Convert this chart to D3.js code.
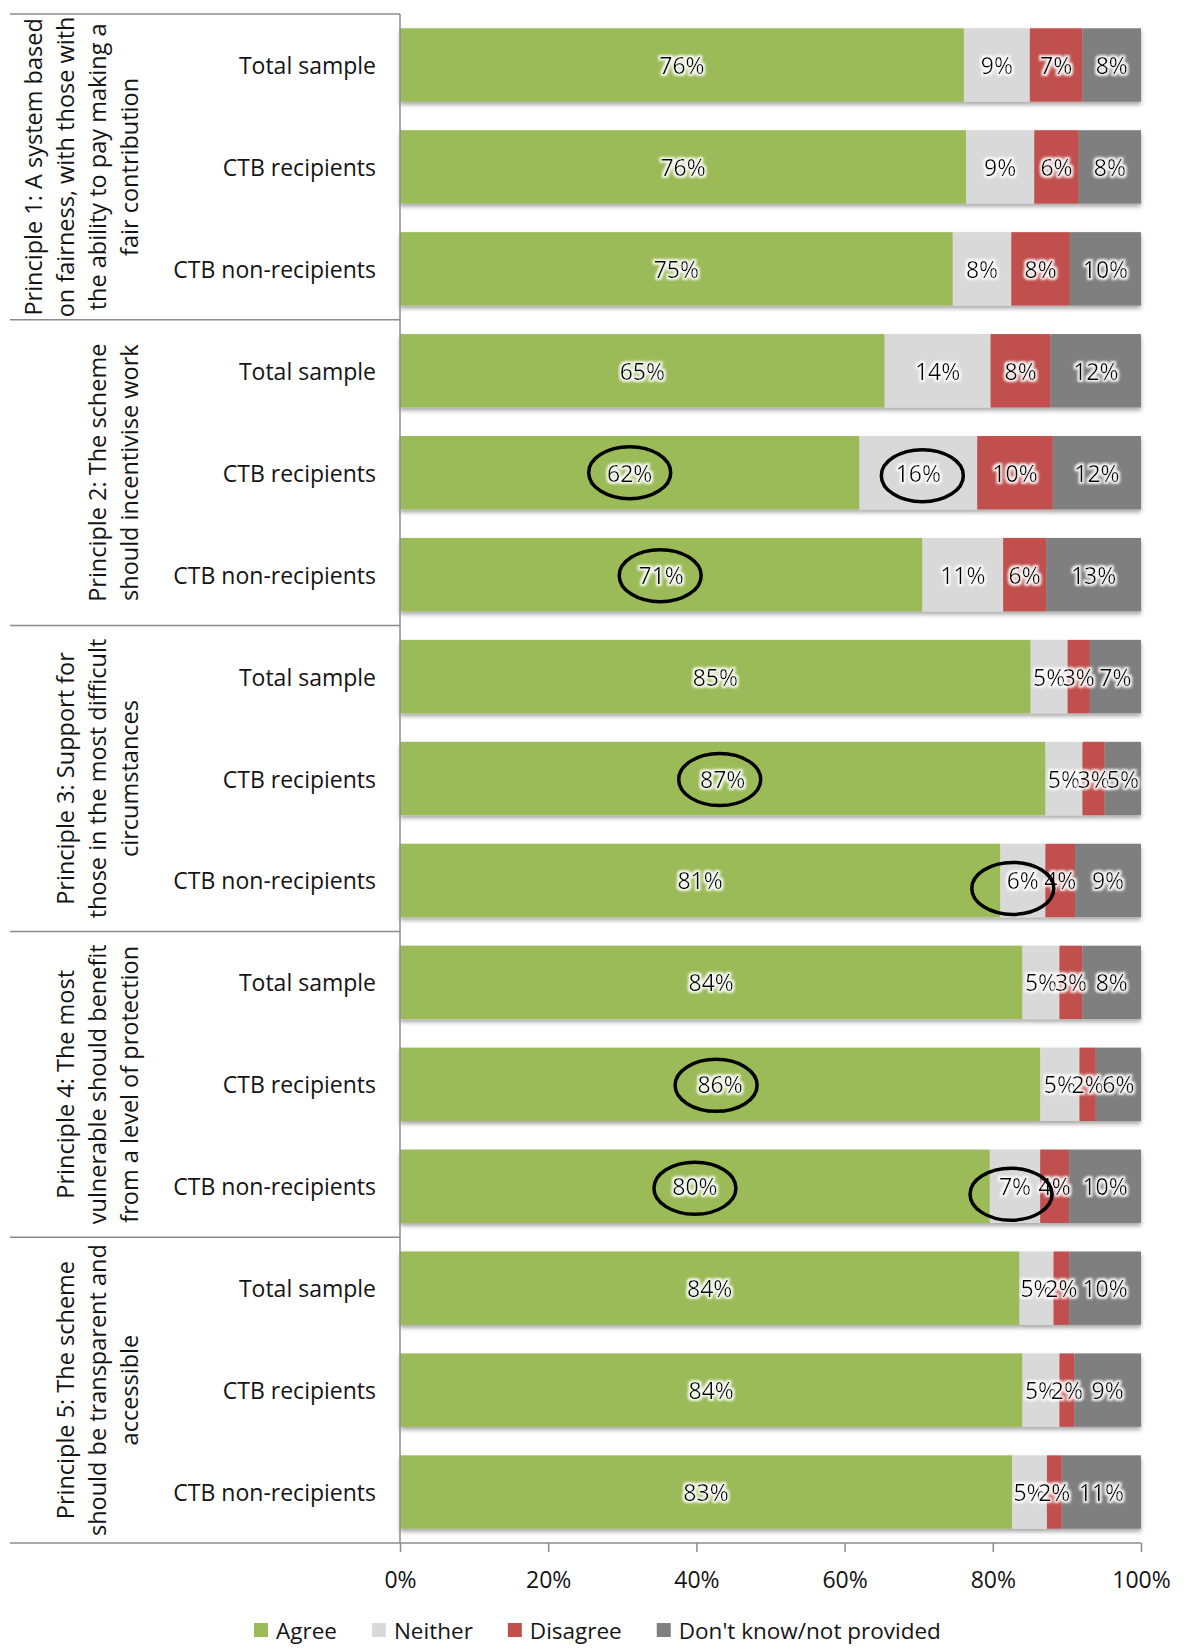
<!DOCTYPE html>
<html>
<head>
<meta charset="utf-8">
<script src="https://cdn.jsdelivr.net/npm/d3@7"></script>
<style>
  body { margin: 0; background: #fff; }
  text { font-family: "Open Sans", sans-serif; fill: #141414; }
</style>
</head>
<body>
<div id="chart"></div>
<script>
// chart data
const principles = [
    ["Principle 1: A system based", "on fairness, with those with", "the ability to pay making a", "fair contribution"],
    ["Principle 2: The scheme", "should incentivise work"],
    ["Principle 3: Support for", "those in the most difficult", "circumstances"],
    ["Principle 4: The most", "vulnerable should benefit", "from a level of protection"],
    ["Principle 5: The scheme", "should be transparent and", "accessible"]
];
const groups = ["Total sample", "CTB recipients", "CTB non-recipients"];
const seriesNames = ["Agree", "Neither", "Disagree", "Don't know/not provided"];
const seriesColors = ["#9BBB59", "#D9D9D9", "#C0504D", "#7F7F7F"];

const agree    = [76.1, 76.4, 74.6, 65.4, 62.0, 70.5, 85.1, 87.1, 81.0, 84.0, 86.4, 79.6, 83.6, 84.0, 82.6];
const neither  = [ 8.9,  9.2,  7.9, 14.3, 15.9, 10.9,  5.0,  5.0,  6.1,  5.0,  5.3,  6.8,  4.6,  5.0,  4.7];
const disagree = [ 7.1,  6.0,  7.9,  8.1, 10.2,  5.8,  3.0,  3.0,  4.0,  3.1,  2.2,  3.9,  2.1,  2.0,  2.0];
const dontKnow = [ 7.9,  8.4,  9.6, 12.2, 11.9, 12.8,  6.9,  4.9,  8.9,  7.9,  6.1,  9.7,  9.7,  9.0, 10.7];

const xTicks = [0, 20, 40, 60, 80, 100];

// circled labels: [row, series, dx, dy]
const circled = [[4, 0, 0, 0], [4, 1, 4, 3], [5, 0, -1, 1], [7, 0, -3, 1], [8, 1, -10, 8], [10, 0, -4, 1], [11, 0, 0, 2], [11, 1, -4, 8]];

const svgW = 1190, svgH = 1648;
const plotLeft = 400, plotRight = 1141, plotTop = 14, plotBottom = 1543;
const fontSize = 23;

const svg = d3.select("#chart").append("svg")
    .attr("width", svgW)
    .attr("height", svgH);

const defs = svg.append("defs");
const shadow = defs.append("filter").attr("id", "shadow")
    .attr("x", "-5%").attr("y", "-20%").attr("width", "110%").attr("height", "150%");
shadow.append("feDropShadow")
    .attr("dx", 0).attr("dy", 3).attr("stdDeviation", 2.2)
    .attr("flood-color", "#000").attr("flood-opacity", 0.35);

const glow = defs.append("filter").attr("id", "glow")
    .attr("x", "-20%").attr("y", "-30%").attr("width", "140%").attr("height", "160%");
glow.append("feMorphology").attr("in", "SourceAlpha").attr("operator", "dilate").attr("radius", 1.6).attr("result", "d");
glow.append("feGaussianBlur").attr("in", "d").attr("stdDeviation", 1.3).attr("result", "b");
glow.append("feFlood").attr("flood-color", "#fff").attr("flood-opacity", 0.9);
glow.append("feComposite").attr("in2", "b").attr("operator", "in").attr("result", "g");
const gm = glow.append("feMerge");
gm.append("feMergeNode").attr("in", "g");
gm.append("feMergeNode").attr("in", "SourceGraphic");

// rows
const rows = [];
principles.forEach((p, pi) => {
    groups.forEach((g, gi) => rows.push({ principle: pi, label: g, i: pi * groups.length + gi }));
});

const x = d3.scaleLinear().domain([0, 100]).range([plotLeft, plotRight]);
const y = d3.scaleBand()
    .domain(rows.map(d => d.i))
    .range([plotTop, plotBottom])
    .paddingInner(0.28)
    .paddingOuter(0.14);

const series = [agree, neither, disagree, dontKnow];
const stacked = rows.map(r => {
    let acc = 0;
    return series.map((s, si) => {
        const seg = { row: r.i, s: si, x0: acc, x1: acc + s[r.i], v: s[r.i] };
        acc += s[r.i];
        return seg;
    });
});

// bars
const barRows = svg.append("g").selectAll("g")
    .data(stacked)
    .join("g")
    .attr("filter", "url(#shadow)");

barRows.selectAll("rect")
    .data(d => d)
    .join("rect")
    .attr("x", d => x(d.x0))
    .attr("y", d => y(d.row))
    .attr("width", d => x(d.x1) - x(d.x0))
    .attr("height", y.bandwidth())
    .attr("fill", d => seriesColors[d.s]);

// value labels
svg.append("g").selectAll("text")
    .data(stacked.flat())
    .join("text")
    .attr("x", d => x((d.x0 + d.x1) / 2))
    .attr("y", d => y(d.row) + y.bandwidth() / 2)
    .attr("text-anchor", "middle")
    .attr("dominant-baseline", "central")
    .attr("font-size", fontSize)
    .style("fill", "#000")
    .attr("filter", "url(#glow)")
    .text(d => Math.round(d.v) + "%");

// circles drawn around some labels
svg.append("g").selectAll("ellipse")
    .data(circled)
    .join("ellipse")
    .attr("cx", d => {
        const seg = stacked[d[0]][d[1]];
        return x((seg.x0 + seg.x1) / 2) + d[2];
    })
    .attr("cy", d => y(d[0]) + y.bandwidth() / 2 + d[3])
    .attr("rx", 41)
    .attr("ry", 26)
    .attr("fill", "none")
    .attr("stroke", "#000")
    .attr("stroke-width", 3.5);

// axes
const axisColor = "#8c8c8c";
const xAxis = svg.append("g")
    .attr("transform", `translate(0,${plotBottom})`)
    .call(d3.axisBottom(x).tickValues(xTicks).tickFormat(d => d + "%").tickSize(9).tickPadding(20));
xAxis.select(".domain").remove();
xAxis.selectAll(".tick line").attr("stroke", axisColor).attr("stroke-width", 1.5);
xAxis.selectAll(".tick text")
    .attr("font-size", fontSize)
    .attr("font-family", "Open Sans, sans-serif")
    .attr("fill", "#141414");

svg.append("line")
    .attr("x1", 10).attr("x2", plotRight)
    .attr("y1", plotBottom).attr("y2", plotBottom)
    .attr("stroke", axisColor).attr("stroke-width", 1.5);
svg.append("line")
    .attr("x1", plotLeft).attr("x2", plotLeft)
    .attr("y1", plotTop).attr("y2", plotBottom)
    .attr("stroke", axisColor).attr("stroke-width", 1.5);

// group separators
svg.append("g").selectAll("line")
    .data(d3.range(principles.length))
    .join("line")
    .attr("x1", 10).attr("x2", plotLeft)
    .attr("y1", d => plotTop + d * groups.length * y.step())
    .attr("y2", d => plotTop + d * groups.length * y.step())
    .attr("stroke", axisColor).attr("stroke-width", 1.5);

// row labels
svg.append("g").selectAll("text")
    .data(rows)
    .join("text")
    .attr("x", 376)
    .attr("y", d => y(d.i) + y.bandwidth() / 2)
    .attr("text-anchor", "end")
    .attr("dominant-baseline", "central")
    .attr("font-size", fontSize)
    .text(d => d.label);

// principle labels, rotated
principles.forEach((lines, pi) => {
    const cy = plotTop + (pi + 0.5) * groups.length * y.step();
    const n = lines.length;
    lines.forEach((line, li) => {
        const cx = 129 - (n - 1 - li) * 32;
        svg.append("text")
            .attr("transform", `translate(${cx},${cy}) rotate(-90)`)
            .attr("text-anchor", "middle")
            .attr("dominant-baseline", "central")
            .attr("font-size", 23.5)
            .text(line);
    });
});

// legend
const legend = svg.append("g").attr("transform", "translate(254,1630)");
let lx = 0;
seriesNames.forEach((name, i) => {
    const item = legend.append("g").attr("transform", `translate(${lx},0)`);
    item.append("rect")
        .attr("x", 0).attr("y", -7)
        .attr("width", 14).attr("height", 14)
        .attr("fill", seriesColors[i]);
    const t = item.append("text")
        .attr("x", 22)
        .attr("dominant-baseline", "central")
        .attr("font-size", 22.5)
        .text(name);
    lx += 22 + t.node().getComputedTextLength() + 35;
});
</script>
</body>
</html>
